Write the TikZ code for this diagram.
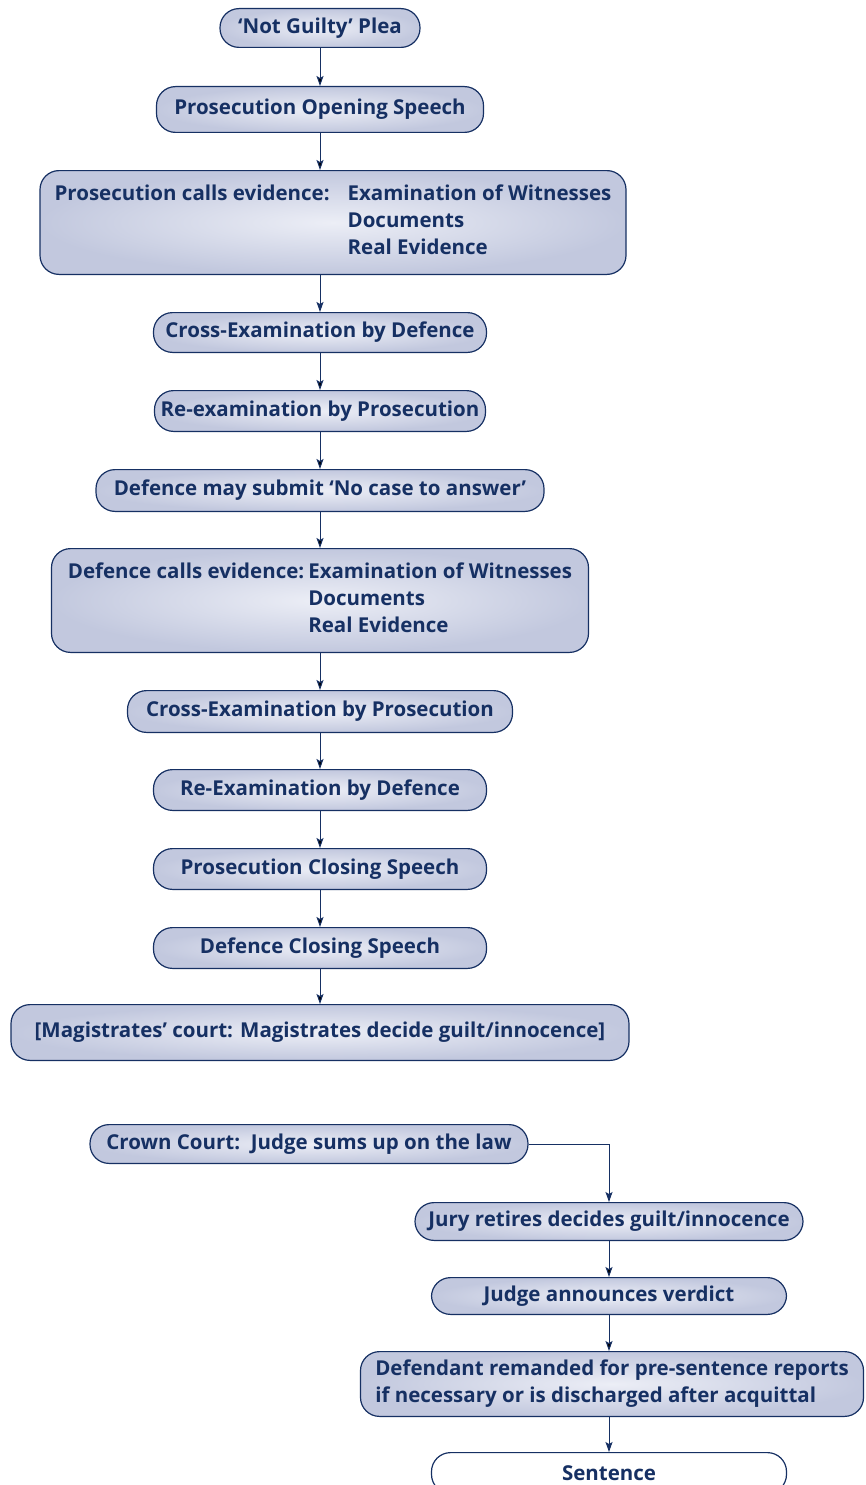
\documentclass[tikz,border=0pt]{standalone}
\usepackage{fontspec}
\setmainfont{Open Sans}
\usetikzlibrary{positioning,arrows.meta}

\definecolor{navy}{RGB}{22,48,99}
\definecolor{boxout}{RGB}{194,200,222}
\definecolor{boxin}{RGB}{236,238,246}

\tikzset{basebox/.style={
        draw=navy,
        line width=1.2pt,
        rounded corners=19pt,
        text=navy,
        font=\fontsize{20.5}{27}\selectfont\bfseries,
        minimum height=40.8pt,
        inner sep=2pt } }
\tikzset{stepbox/.style={ basebox, inner color=boxin, outer color=boxout } }
\tikzset{endbox/.style={ basebox, fill=white } }
\tikzset{link/.style={ draw=navy, line width=1pt, -{Stealth[length=10pt,width=7pt,inset=2pt]} } }

\begin{document}
\begin{tikzpicture}

\useasboundingbox (0,0) rectangle (865pt,-1485pt);

\node[stepbox, minimum width=200pt, minimum height=38.8pt] (plea) at (320pt,-28pt) {‘Not Guilty’ Plea};
\node[stepbox, minimum width=327pt, minimum height=45.8pt] (opening) [below = 38pt of plea] {Prosecution Opening Speech};
\node[stepbox, minimum width=586pt, minimum height=103.8pt] (pcalls) [below = 37pt of opening, xshift=13pt]
{\begin{tabular}{@{}l@{\hspace{18pt}}l@{}}Prosecution calls evidence: & Examination of Witnesses\\ & Documents\\ & Real Evidence\end{tabular}};
\node[stepbox, minimum width=333pt, minimum height=39.8pt] (pcross) [below = 37pt of pcalls, xshift=-13pt] {Cross-Examination by Defence};
\node[stepbox, minimum width=331pt] (preexam) [below = 37pt of pcross] {Re-examination by Prosecution};
\node[stepbox, minimum width=448pt, minimum height=41.8pt] (nocase) [below = 37pt of preexam] {Defence may submit ‘No case to answer’};
\node[stepbox, minimum width=537pt, minimum height=103.8pt] (dcalls) [below = 36pt of nocase]
{\begin{tabular}{@{}l@{\hspace{4pt}}l@{}}Defence calls evidence: & Examination of Witnesses\\ & Documents\\ & Real Evidence\end{tabular}};
\node[stepbox, minimum width=385pt, minimum height=41.8pt] (dcross) [below = 37pt of dcalls] {Cross-Examination by Prosecution};
\node[stepbox, minimum width=333pt] (dreexam) [below = 36pt of dcross] {Re-Examination by Defence};
\node[stepbox, minimum width=333pt] (pclose) [below = 37pt of dreexam] {Prosecution Closing Speech};
\node[stepbox, minimum width=333pt] (dclose) [below = 37pt of pclose] {Defence Closing Speech};
\node[stepbox, minimum width=618pt, minimum height=55.8pt] (magis) [below = 35pt of dclose] {[Magistrates’ court: Magistrates decide guilt/innocence]};

%%CROWN COURT
\node[stepbox, minimum width=438pt, minimum height=38.8pt] (crown) [below = 63pt of magis, xshift=-11pt] {Crown Court:\ \ Judge sums up on the law};
\node[stepbox, minimum width=388pt, minimum height=37.8pt] (jury) [below = 38pt of crown, xshift=300pt] {Jury retires decides guilt/innocence};
\node[stepbox, minimum width=355pt, minimum height=36.8pt] (verdict) [below = 36pt of jury] {Judge announces verdict};
\node[stepbox, minimum width=503pt, minimum height=64.8pt, align=left] (remand) [below = 36pt of verdict, xshift=3pt]
{Defendant remanded for pre-sentence reports\\if necessary or is discharged after acquittal};
\node[endbox, minimum width=355pt] (sentence) [below = 35pt of remand, xshift=-3pt] {Sentence};

\path[link]
(plea) edge (opening)
(opening) edge (opening |- pcalls.north)
(pcross) edge (preexam)
(preexam) edge (nocase)
(nocase) edge (dcalls)
(dcalls) edge (dcross)
(dcross) edge (dreexam)
(dreexam) edge (pclose)
(pclose) edge (dclose)
(dclose) edge (magis)

(jury) edge (verdict)
(verdict) edge (verdict |- remand.north)
;

\draw[link] (pcalls.south -| pcross.north) -- (pcross.north);
\draw[link] (crown.east) -| (jury.north);
\draw[link] (remand.south -| sentence.north) -- (sentence.north);

\end{tikzpicture}
\end{document}
